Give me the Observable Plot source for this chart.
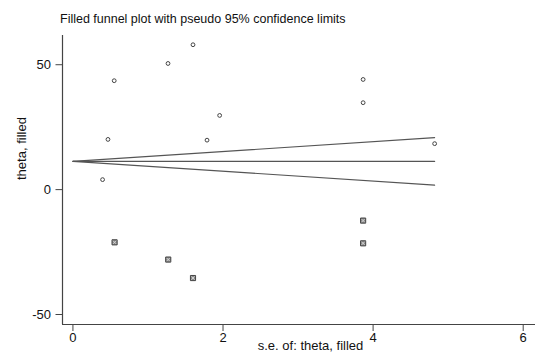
<!DOCTYPE html>
<html>
<head>
<meta charset="utf-8">
<script src="https://cdn.jsdelivr.net/npm/d3@7"></script>
<script src="https://cdn.jsdelivr.net/npm/@observablehq/plot@0.6"></script>
<style>
  body { margin: 0; background: #fff; font-family: "Liberation Sans", Arial, sans-serif; overflow: hidden; }
  #title { box-sizing: border-box; height: 30px; padding: 13px 0 0 60px; font-size: 12.5px; line-height: 13px; color: #111; white-space: nowrap; }
</style>
</head>
<body>
<div id="title">Filled funnel plot with pseudo 95% confidence limits</div>
<div id="chart"></div>
<script>
// Observed studies
const observedSe    = [0.395, 0.467, 0.55, 1.267, 1.6, 1.787, 1.955, 3.867, 3.867, 4.82];
const observedTheta = [4.0, 20.1, 43.6, 50.5, 58.0, 19.8, 29.7, 44.1, 34.8, 18.4];
// Filled (imputed) studies
const filledSe    = [0.555, 1.27, 1.6, 3.867, 3.867];
const filledTheta = [-21.1, -28.0, -35.4, -12.4, -21.5];
// Pooled estimate and pseudo 95% limits (endpoints)
const limitSe     = [0, 4.82];
const limitCenter = [11.3, 11.3];
const limitUpper  = [11.3, 20.8];
const limitLower  = [11.3, 1.8];
// Axis ticks
const xTicks = [0, 2, 4, 6];
const yTicks = [-50, 0, 50];

const observed = observedSe.map((s, i) => ({se: s, theta: observedTheta[i]}));
const filled = filledSe.map((s, i) => ({se: s, theta: filledTheta[i]}));
const lines = limitSe.map((s, i) => ({se: s, c: limitCenter[i], u: limitUpper[i], l: limitLower[i]}));

const xMin = -0.139, xMax = 6.164, yMin = -54, yMax = 61.7;
const axisColor = "#444";
const fmt = d => String(d);

const chart = Plot.plot({
  width: 535,
  height: 323,
  marginLeft: 62,
  marginRight: 0,
  marginTop: 5,
  marginBottom: 29,
  style: {fontFamily: "Liberation Sans, Arial, sans-serif", fontSize: "13px", color: "#111", background: "#fff"},
  x: {domain: [xMin, xMax]},
  y: {domain: [yMin, yMax]},
  marks: [
    Plot.axisX({ticks: xTicks, tickFormat: fmt, tickSize: 7, tickPadding: 1.5, label: null, stroke: axisColor, fontSize: 13}),
    Plot.axisY({ticks: yTicks, tickFormat: fmt, tickSize: 6.5, tickPadding: 5, label: null, stroke: axisColor, fontSize: 13}),
    Plot.ruleX([xMin], {stroke: axisColor, strokeWidth: 1.2}),
    Plot.ruleY([yMin], {stroke: axisColor, strokeWidth: 1.2}),
    Plot.line(lines, {x: "se", y: "c", stroke: "#555", strokeWidth: 1.1}),
    Plot.line(lines, {x: "se", y: "u", stroke: "#555", strokeWidth: 1.1}),
    Plot.line(lines, {x: "se", y: "l", stroke: "#555", strokeWidth: 1.1}),
    Plot.dot(observed, {x: "se", y: "theta", r: 1.9, stroke: "#444", strokeWidth: 1, fill: "none"}),
    Plot.dot(filled, {x: "se", y: "theta", symbol: "square", r: 2.9, fill: "#8a8a8a", stroke: "#444", strokeWidth: 1}),
    Plot.dot(filled, {x: "se", y: "theta", symbol: "times", r: 1.6, stroke: "#e0e0e0", strokeWidth: 0.8}),
    Plot.text(["theta, filled"], {frameAnchor: "left", rotate: -90, dx: -41, fontSize: 13, fill: "#111"}),
    Plot.text(["s.e. of: theta, filled"], {frameAnchor: "bottom", dx: 11.5, dy: 25.5, fontSize: 13, fill: "#111"})
  ]
});
document.getElementById("chart").appendChild(chart);
</script>
</body>
</html>
